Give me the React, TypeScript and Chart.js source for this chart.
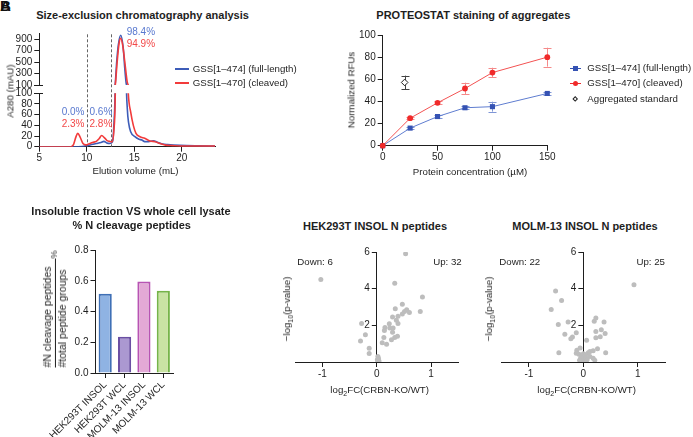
import React, { useEffect, useRef } from 'react';
import { Chart, registerables } from 'chart.js';
Chart.register(...registerables);

const FONT = "'Liberation Sans', Arial, Helvetica, sans-serif";
const INK = '#1e1e1e';
const BLUE = '#3d5cb8';
const RED = '#f23b3b';
const LBL = 9.7;

// ---------- Panel A: size-exclusion chromatography ----------
const secFullX = [5, 7, 8.5, 9.5, 10, 10.5, 11, 11.5, 11.8, 12.1, 12.4, 12.7, 12.85, 13.0, 13.15, 13.32, 13.57, 13.84, 14.0, 14.15, 14.27, 14.4, 14.62, 15.07, 15.5, 15.8, 16.1, 16.5, 17.0, 17.5, 18.0, 18.5, 19.8, 21.9, 23.5];
const secFullY = [0, 0, 0, 0.5, 2, 4, 6, 8, 10, 7, 6, 9, 40, 130, 505, 796, 965, 738, 390, 130, 70, 45, 28, 18.7, 14, 12.5, 9.5, 9.4, 11, 8, 5, 4, 2.5, 1.5, 1];
const secCleavedX = [5, 8.3, 8.6, 8.85, 9.05, 9.3, 9.6, 9.9, 10.2, 10.6, 11.0, 11.3, 11.57, 11.85, 12.1, 12.4, 12.65, 12.85, 13.0, 13.2, 13.4, 13.57, 13.78, 14.0, 14.25, 14.37, 14.62, 14.9, 15.18, 15.6, 16.1, 16.65, 17.2, 17.7, 18.3, 19, 20, 21.5, 23.5];
const secCleavedY = [0, 0, 4, 18, 25, 18, 6, 3.5, 5, 8, 10, 15, 21, 17, 12, 10, 9, 30, 100, 505, 825, 915, 796, 505, 160, 100, 65, 40, 25, 18.7, 15.7, 10.7, 9.4, 6, 3, 2, 1, 1, 1];
const secXTicks = [5, 10, 15, 20];
const secUpperTicks = [100, 300, 500, 700, 900];
const secLowerTicks = [0, 20, 40, 60, 80, 100];
const secCuts = [10, 12.5];

// ---------- Panel B: PROTEOSTAT ----------
const concentrations = [0, 25, 50, 75, 100, 150];
const fullLengthRFU = [0, 16, 26.5, 34.5, 35.5, 47.5];
const fullLengthErr = [0, 1, 1.2, 1.2, 4.5, 1.2];
const cleavedRFU = [0, 25, 39, 52, 66.5, 80.5];
const cleavedErr = [0, 1, 1.2, 5.3, 4.4, 8.6];
const standardConc = [20];
const standardRFU = [57.5];
const standardErr = [6.2];

// ---------- Panel C: cleavage peptides ----------
const fractions = ['HEK293T INSOL', 'HEK293T WCL', 'MOLM-13 INSOL', 'MOLM-13 WCL'];
const cleavagePct = [0.515, 0.235, 0.595, 0.535];
const barFill = ['#8fb3e3', '#ab98d1', '#e3a9d6', '#c9e3a3'];
const barEdge = ['#3f70b6', '#6a4fa3', '#b754b3', '#76b449'];

// ---------- Panels D/E: volcano ----------
const hekFC = [-1.03, 0.53, 0.33, 0.84, 0.47, 0.34, 0.55, 0.51, 0.6, 0.8, 0.47, 0.39, 0.29, 0.36, 0.39, 0.23, 0.15, 0.24, 0.3, 0.14, 0.29, -0.28, -0.21, -0.3, -0.14, -0.14, 0.13, 0.38, 0.33, 0.27, 0.1, 0.18, 0.02, 0.03, 0.01, 0.04, 0.02];
const hekP = [4.5, 5.9, 4.3, 3.55, 3.15, 2.9, 2.85, 2.75, 2.7, 2.75, 2.62, 2.5, 2.45, 2.28, 2.1, 2.08, 1.88, 1.86, 1.86, 1.72, 1.62, 2.1, 1.48, 1.15, 0.75, 0.47, 1.33, 1.4, 1.33, 1.22, 1.05, 0.97, 0.3, 0.2, 0.12, 0.05, 0.03];
const molmFC = [0.93, -0.51, -0.4, -0.59, 0.23, 0.2, 0.38, -0.46, -0.28, 0.33, 0.23, 0.4, -0.34, -0.13, -0.2, -0.23, 0.31, 0.23, 0.06, -0.45, 0.41, 0.26, 0.18, 0.12, 0.09, -0.06, -0.12, -0.13, -0.08, -0.03, 0.0, 0.03, -0.05, 0.05, -0.02, 0.02, 0.07, -0.07, 0.18, 0.21, 0.0, 0.04, -0.04, 0.12];
const molmP = [4.22, 3.87, 3.35, 2.87, 2.4, 2.22, 2.18, 2.05, 2.18, 1.76, 1.66, 1.56, 1.51, 1.6, 1.36, 1.27, 1.38, 1.32, 1.18, 0.5, 0.5, 0.72, 0.62, 0.57, 0.5, 0.76, 0.64, 0.48, 0.42, 0.35, 0.45, 0.3, 0.22, 0.2, 0.15, 0.08, 0.12, 0.1, 0.2, 0.1, 0.02, 0.4, 0.05, 0.3];
const volcanoXTicks = [-1, 0, 1];
const volcanoYTicks = [2, 4, 6];

// ---------- helpers ----------
const tickFont = { family: FONT, size: 10 };
const border = { display: true, color: INK, width: 1 };
const tickGrid = (len = 5) => ({ display: true, drawOnChartArea: false, drawTicks: true, tickLength: len, color: INK, lineWidth: 1 });
const fixTicks = (vals: number[]) => (s: any) => { s.ticks = vals.map((v) => ({ value: v })); };
const fixW = (w: number) => (s: any) => { s.width = w; };
const fixH = (h: number) => (s: any) => { s.height = h; };
const pts = (xs: number[], ys: number[]) => xs.map((x, i) => ({ x, y: ys[i] }));
const yTicks = (extra: any = {}) => ({ font: tickFont, color: INK, padding: 2, autoSkip: false, ...extra });
const xTicks = (extra: any = {}) => ({ font: tickFont, color: INK, padding: 1, maxRotation: 0, autoSkip: false, ...extra });

type Area = { l: number; t: number; r: number; b: number };

function Plot({ area, yW = 0, xH = 0, make }: { area: Area; yW?: number; xH?: number; make: () => any }) {
  const ref = useRef<HTMLCanvasElement>(null);
  const M = 24;
  const left = Math.floor(area.l - yW - M);
  const top = Math.floor(area.t - M);
  const right = Math.ceil(area.r + M);
  const bottom = Math.ceil(area.b + xH + M);
  const w = right - left;
  const h = bottom - top;
  useEffect(() => {
    const cfg = make();
    cfg.options = cfg.options || {};
    cfg.options.responsive = false;
    cfg.options.animation = false;
    cfg.options.devicePixelRatio = 1;
    cfg.options.events = [];
    cfg.options.plugins = { ...(cfg.options.plugins || {}), legend: { display: false }, tooltip: { enabled: false } };
    cfg.options.layout = {
      padding: { left: area.l - yW - left, top: area.t - top, right: right - area.r, bottom: bottom - area.b - xH },
    };
    const c = new Chart(ref.current as HTMLCanvasElement, cfg);
    return () => c.destroy();
  }, []);
  return <canvas ref={ref} width={w} height={h} style={{ position: 'absolute', left, top, width: w, height: h }} />;
}

type TP = { x: number; y: number; a?: 'l' | 'c' | 'r'; s?: number; b?: boolean; c?: string; rot?: boolean; children: React.ReactNode };
function Txt({ x, y, a = 'c', s = LBL, b = false, c = INK, rot = false, children }: TP) {
  const tx = a === 'l' ? '0' : a === 'r' ? '-100%' : '-50%';
  return (
    <div style={{ position: 'absolute', left: x, top: y, transform: `translate(${tx},-50%)${rot ? ' rotate(-90deg)' : ''}`, fontFamily: FONT, fontSize: s, fontWeight: b ? 700 : 400, color: c, whiteSpace: 'nowrap', lineHeight: 1.15 }}>
      {children}
    </div>
  );
}

// dashed fraction cut lines + axis break mark for SEC
const cutPlugin = (extendBottom: number, breakAtBottom: boolean) => ({
  id: 'cuts',
  beforeDatasetsDraw(chart: any) {
    const { ctx, chartArea } = chart;
    ctx.save();
    ctx.setLineDash([3, 2]);
    ctx.strokeStyle = '#666';
    ctx.lineWidth = 1;
    secCuts.forEach((v) => {
      const x = Math.round(chart.scales.x.getPixelForValue(v)) + 0.5;
      ctx.beginPath();
      ctx.moveTo(x, chartArea.top + 1);
      ctx.lineTo(x, chartArea.bottom + extendBottom);
      ctx.stroke();
    });
    ctx.setLineDash([]);
    ctx.strokeStyle = INK;
    const yb = Math.round(breakAtBottom ? chartArea.bottom : chartArea.top) + 0.5;
    const xl = Math.round(chartArea.left);
    ctx.beginPath();
    ctx.moveTo(xl - 5, yb);
    ctx.lineTo(xl + 4, yb);
    ctx.stroke();
    ctx.restore();
  },
});

const errorPlugin = {
  id: 'errorBars',
  beforeDatasetsDraw(chart: any) {
    const { ctx } = chart;
    const ys = chart.scales.y;
    chart.data.datasets.forEach((ds: any, di: number) => {
      if (!ds.errors) return;
      const meta = chart.getDatasetMeta(di);
      meta.data.forEach((p: any, i: number) => {
        const e = ds.errors[i];
        if (!e) return;
        const v = ds.data[i].y;
        const y1 = ys.getPixelForValue(v + e);
        const y2 = ys.getPixelForValue(v - e);
        const x = Math.round(p.x) + 0.5;
        ctx.save();
        ctx.strokeStyle = ds.errorColor;
        ctx.lineWidth = 1;
        ctx.beginPath();
        ctx.moveTo(x, y1); ctx.lineTo(x, y2);
        ctx.moveTo(x - 4, Math.round(y1) + 0.5); ctx.lineTo(x + 4, Math.round(y1) + 0.5);
        ctx.moveTo(x - 4, Math.round(y2) + 0.5); ctx.lineTo(x + 4, Math.round(y2) + 0.5);
        ctx.stroke();
        ctx.restore();
      });
    });
  },
};

// put the y axis of the volcano plots at x = 0
const yAtZeroPlugin = {
  id: 'yAtZero',
  afterLayout(chart: any) {
    const y = chart.scales.y;
    const px = chart.scales.x.getPixelForValue(0);
    y.left = px - 40;
    y.right = px;
  },
};

function secDatasets() {
  return [
    { data: pts(secCleavedX, secCleavedY), borderColor: RED, borderWidth: 1.6, pointRadius: 0, cubicInterpolationMode: 'monotone', fill: false },
    { data: pts(secFullX, secFullY), borderColor: BLUE, borderWidth: 1.6, pointRadius: 0, cubicInterpolationMode: 'monotone', fill: false },
  ];
}

const secUpper = () => ({
  type: 'line',
  data: { datasets: secDatasets() },
  plugins: [cutPlugin(9, true)],
  options: {
    scales: {
      x: { type: 'linear', min: 5, max: 23.5, display: false },
      y: { type: 'linear', min: 100, max: 1000, afterBuildTicks: fixTicks(secUpperTicks), afterFit: fixW(30), border, grid: tickGrid(5), ticks: yTicks() },
    },
  },
});

const secLower = () => ({
  type: 'line',
  data: { datasets: secDatasets() },
  plugins: [cutPlugin(0, false)],
  options: {
    scales: {
      x: { type: 'linear', min: 5, max: 23.5, afterBuildTicks: fixTicks(secXTicks), afterFit: fixH(20), border, grid: tickGrid(5), ticks: xTicks() },
      y: { type: 'linear', min: 0, max: 100, afterBuildTicks: fixTicks(secLowerTicks), afterFit: fixW(30), border, grid: tickGrid(5), ticks: yTicks() },
    },
  },
});

const proteostat = () => ({
  type: 'line',
  data: {
    datasets: [
      { data: pts(concentrations, cleavedRFU), errors: cleavedErr, errorColor: '#f58a8a', borderColor: '#f35252', backgroundColor: '#f02a2a', borderWidth: 1, pointStyle: 'circle', pointRadius: 2.9, pointBorderWidth: 0, clip: false },
      { data: pts(concentrations, fullLengthRFU), errors: fullLengthErr, errorColor: '#7f96d6', borderColor: '#5f7dd0', backgroundColor: '#3552b3', borderWidth: 1, pointStyle: 'rect', pointRadius: 3.6, pointBorderWidth: 0, clip: false },
      { data: pts(standardConc, standardRFU), errors: standardErr, errorColor: '#444', showLine: false, borderColor: '#222', backgroundColor: '#fff', pointStyle: 'rectRot', pointRadius: 3.3, pointBorderWidth: 1, clip: false },
    ],
  },
  plugins: [errorPlugin],
  options: {
    scales: {
      x: { type: 'linear', min: 0, max: 150, ticks: xTicks({ stepSize: 50 }), afterFit: fixH(25), border, grid: tickGrid(5) },
      y: { type: 'linear', min: 0, max: 100, ticks: yTicks({ stepSize: 20 }), afterFit: fixW(30), border, grid: tickGrid(5) },
    },
  },
});

const cleavageBars = () => ({
  type: 'bar',
  data: {
    labels: fractions,
    datasets: [{ data: cleavagePct, backgroundColor: barFill, borderColor: barEdge, borderWidth: 2, barPercentage: 0.68, categoryPercentage: 1 }],
  },
  options: {
    scales: {
      x: { ticks: xTicks({ minRotation: 45, maxRotation: 45 }), afterFit: fixH(65), border, grid: { ...tickGrid(5), offset: false } },
      y: { min: 0, max: 0.8, ticks: yTicks({ stepSize: 0.2, callback: (v: any) => Number(v).toFixed(1) }), afterFit: fixW(40), border, grid: tickGrid(5) },
    },
  },
});

const volcano = (fc: number[], p: number[]) => () => ({
  type: 'scatter',
  data: { datasets: [{ data: pts(fc, p), backgroundColor: '#bdbdbd', pointRadius: 2.5, pointBorderWidth: 0 }] },
  plugins: [yAtZeroPlugin],
  options: {
    scales: {
      x: { type: 'linear', min: -1.5, max: 1.5, afterBuildTicks: fixTicks(volcanoXTicks), afterFit: fixH(22), border, grid: tickGrid(5), ticks: xTicks() },
      y: { type: 'linear', position: 'left', min: 0, max: 6, afterBuildTicks: fixTicks(volcanoYTicks), afterFit: fixW(0), border, grid: tickGrid(5), ticks: yTicks() },
    },
  },
});

function LineSwatch({ x, y, color }: { x: number; y: number; color: string }) {
  return <div style={{ position: 'absolute', left: x, top: y - 1, width: 14, height: 2, background: color }} />;
}

function MarkerSwatch({ x, y, color, kind }: { x: number; y: number; color: string; kind: 'sq' | 'ci' | 'di' }) {
  const line = kind !== 'di' ? <div style={{ position: 'absolute', left: x - 5.5, top: y - 0.5, width: 11, height: 1, background: color }} /> : null;
  let m: React.ReactNode;
  if (kind === 'sq') m = <div style={{ position: 'absolute', left: x - 2.5, top: y - 2.5, width: 5, height: 5, background: color }} />;
  else if (kind === 'ci') m = <div style={{ position: 'absolute', left: x - 2.8, top: y - 2.8, width: 5.6, height: 5.6, borderRadius: '50%', background: color }} />;
  else m = <div style={{ position: 'absolute', left: x - 2.2, top: y - 2.2, width: 4.4, height: 4.4, border: '1px solid #222', boxSizing: 'border-box', background: '#fff', transform: 'rotate(45deg)' }} />;
  return <>{line}{m}</>;
}

export default function App() {
  return (
    <div style={{ position: 'absolute', left: 0, top: 0, width: 693, height: 437, overflow: 'hidden', background: '#fff' }}>
      {/* panel letter */}
      <div style={{ position: 'absolute', left: 0, top: -3, fontFamily: FONT, fontWeight: 700, fontSize: 15, color: '#111' }}>A</div>
      <div style={{ position: 'absolute', left: 0, top: -3, fontFamily: FONT, fontWeight: 700, fontSize: 15, color: '#111' }}>B</div>

      {/* Panel A */}
      <Txt x={142.5} y={14.5} s={11} b>Size-exclusion chromatography analysis</Txt>
      <Plot area={{ l: 39.3, t: 33.3, r: 215, b: 85 }} yW={30} make={secUpper} />
      <Plot area={{ l: 39.3, t: 93.3, r: 215, b: 146.7 }} yW={30} xH={20} make={secLower} />
      <Txt x={10} y={91} rot>A280 (mAU)</Txt>
      <Txt x={135.5} y={170.5}>Elution volume (mL)</Txt>
      <Txt x={126.7} y={32} a="l" s={10} c="#5878cf">98.4%</Txt>
      <Txt x={126.7} y={43.5} a="l" s={10} c="#f24848">94.9%</Txt>
      <Txt x={61.7} y={112} a="l" s={10} c="#5878cf">0.0%</Txt>
      <Txt x={89.5} y={112} a="l" s={10} c="#5878cf">0.6%</Txt>
      <Txt x={61.7} y={123.5} a="l" s={10} c="#f24848">2.3%</Txt>
      <Txt x={89.5} y={123.5} a="l" s={10} c="#f24848">2.8%</Txt>
      <LineSwatch x={175} y={68.5} color={BLUE} />
      <Txt x={192.7} y={68.5} a="l">GSS[1–474] (full-length)</Txt>
      <LineSwatch x={175} y={82.7} color={RED} />
      <Txt x={192.7} y={82.7} a="l">GSS[1–470] (cleaved)</Txt>

      {/* Panel B */}
      <Txt x={473.3} y={15} s={11} b>PROTEOSTAT staining of aggregates</Txt>
      <Plot area={{ l: 382.7, t: 35.7, r: 547.3, b: 145.7 }} yW={30} xH={25} make={proteostat} />
      <Txt x={351} y={90} rot>Normalized RFUs</Txt>
      <Txt x={470} y={171.7}>Protein concentration (µM)</Txt>
      <MarkerSwatch x={575.5} y={68.3} color="#3552b3" kind="sq" />
      <Txt x={587.3} y={68.3} a="l">GSS[1–474] (full-length)</Txt>
      <MarkerSwatch x={575.5} y={83.3} color="#f02a2a" kind="ci" />
      <Txt x={587.3} y={83.3} a="l">GSS[1–470] (cleaved)</Txt>
      <MarkerSwatch x={575.5} y={99} color="#222" kind="di" />
      <Txt x={587.3} y={99} a="l">Aggregated standard</Txt>

      {/* Panel C */}
      <Txt x={131} y={211} s={11} b>Insoluble fraction VS whole cell lysate</Txt>
      <Txt x={131.7} y={225} s={11} b>% N cleavage peptides</Txt>
      <Plot area={{ l: 95.5, t: 250, r: 173, b: 373 }} yW={40} xH={65} make={cleavageBars} />
      <div style={{ position: 'absolute', left: 55, top: 309, transform: 'translate(-50%,-50%) rotate(-90deg)', fontFamily: FONT, fontSize: 10.5, color: INK, whiteSpace: 'nowrap', lineHeight: 1.1 }}>
        <div style={{ position: 'relative', paddingRight: 16 }}>
          <div>#N cleavage peptides</div>
          <div style={{ height: 0, borderTop: '1px solid ' + INK, marginRight: -8, marginTop: 1, marginBottom: 1 }} />
          <div>#total peptide groups</div>
          <div style={{ position: 'absolute', right: 0, top: '50%', transform: 'translateY(-50%)', fontSize: 9 }}>%</div>
        </div>
      </div>

      {/* Panel D */}
      <Txt x={375} y={226} s={11} b>HEK293T INSOL N peptides</Txt>
      <Plot area={{ l: 295.3, t: 252, r: 458.3, b: 362 }} xH={22} make={volcano(hekFC, hekP)} />
      <Txt x={297.3} y={262} a="l">Down: 6</Txt>
      <Txt x={461.7} y={262} a="r">Up: 32</Txt>
      <Txt x={288.3} y={309} rot>−log<sub style={{ fontSize: 7 }}>10</sub>(p-value)</Txt>
      <Txt x={379.7} y={390.7}>log<sub style={{ fontSize: 7 }}>2</sub>FC(CRBN-KO/WT)</Txt>

      {/* Panel E */}
      <Txt x={585} y={226} s={11} b>MOLM-13 INSOL N peptides</Txt>
      <Plot area={{ l: 501.7, t: 252, r: 665, b: 362 }} xH={22} make={volcano(molmFC, molmP)} />
      <Txt x={499.3} y={262} a="l">Down: 22</Txt>
      <Txt x={665} y={262} a="r">Up: 25</Txt>
      <Txt x={490} y={309} rot>−log<sub style={{ fontSize: 7 }}>10</sub>(p-value)</Txt>
      <Txt x={586.7} y={390.7}>log<sub style={{ fontSize: 7 }}>2</sub>FC(CRBN-KO/WT)</Txt>
    </div>
  );
}
